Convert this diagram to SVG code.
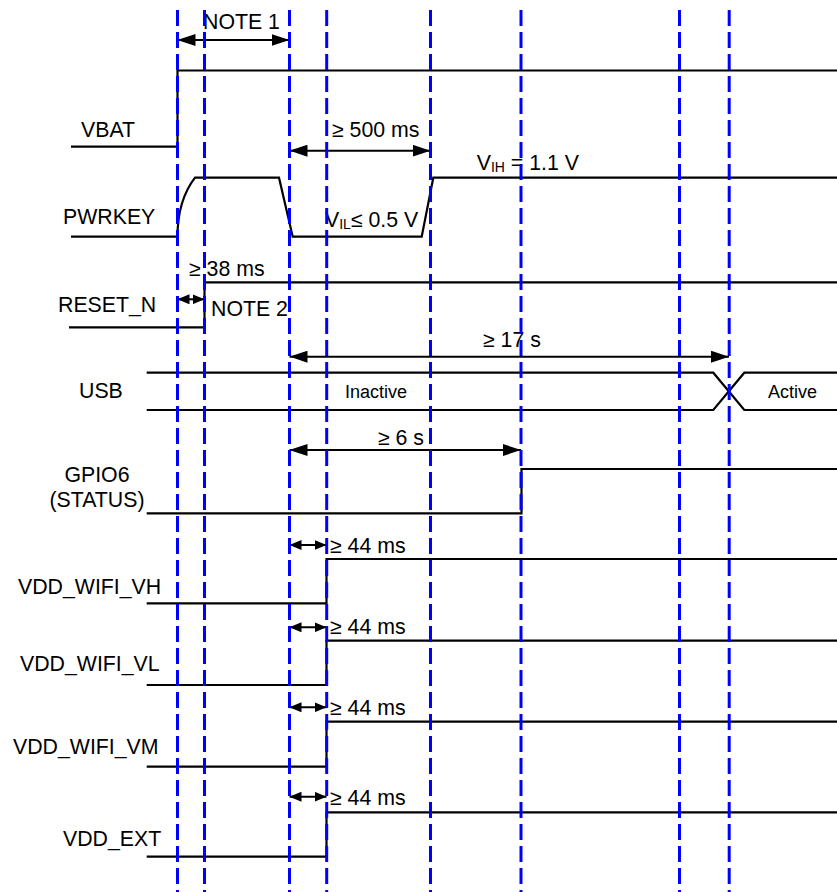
<svg xmlns="http://www.w3.org/2000/svg" width="837" height="892" viewBox="0 0 837 892">
<style>
text{font-family:"Liberation Sans",Arial,sans-serif;font-size:21.3px;fill:#000}
.sig{fill:none;stroke:#000;stroke-width:2.2}
.small{font-size:18px}
.dim{stroke:#000;stroke-width:2;fill:none}
.big{marker-start:url(#ab);marker-end:url(#ab)}
.sm{marker-start:url(#as);marker-end:url(#as)}
.grid{stroke:#0000ff;stroke-width:3;stroke-dasharray:16 6;fill:none}
</style>
<defs>
<marker id="ab" markerUnits="userSpaceOnUse" markerWidth="18" markerHeight="12" refX="18" refY="6" orient="auto-start-reverse"><path d="M0,0 L18,6 L0,12 z" fill="#000"/></marker>
<marker id="as" markerUnits="userSpaceOnUse" markerWidth="12" markerHeight="10" refX="12" refY="5" orient="auto-start-reverse"><path d="M0,0 L12,5 L0,10 z" fill="#000"/></marker>
</defs>
<rect width="837" height="892" fill="#fff"/>

<g id="vbat">
<text x="81" y="136.7">VBAT</text>
<path class="sig" d="M71,146.7 H177.5 V70.5 H837"/>
</g>

<g id="pwrkey">
<text x="63" y="224.3">PWRKEY</text>
<path class="sig" d="M71,236.7 H177.5 C177.5,212 184,192 195,177.7 H279 L292.7,236.7 H421.7 L433.3,177.7 H837"/>
<text x="325" y="227.3">V<tspan font-size="14" dy="2">IL</tspan><tspan dy="-2">≤ 0.5 V</tspan></text>
<text x="476.7" y="170">V<tspan font-size="14" dy="2">IH</tspan><tspan dy="-2"> = 1.1 V</tspan></text>
</g>

<g id="reset_n">
<text x="58" y="311.7">RESET_N</text>
<path class="sig" d="M69,327.3 H204.5 V282.3 H837"/>
<text x="211" y="315.7">NOTE 2</text>
</g>

<g id="usb">
<text x="79" y="398">USB</text>
<path class="sig" d="M146.7,372.7 H713.3 L744.3,410 H837"/>
<path class="sig" d="M146.7,410 H713.3 L744.3,372.7 H837"/>
<text class="small" x="345" y="398">Inactive</text>
<text class="small" x="768" y="398">Active</text>
</g>

<g id="gpio6">
<text x="97" y="481.7" text-anchor="middle">GPIO6</text>
<text x="97" y="506.7" text-anchor="middle">(STATUS)</text>
<path class="sig" d="M146.7,513.3 H521.5 V469 H837"/>
</g>

<g id="vdd_wifi_vh">
<text x="18" y="594">VDD_WIFI_VH</text>
<path class="sig" d="M146.7,603.3 H326.5 V559 H837"/>
</g>

<g id="vdd_wifi_vl">
<text x="20" y="671">VDD_WIFI_VL</text>
<path class="sig" d="M146.7,685 H326.5 V640.7 H837"/>
</g>

<g id="vdd_wifi_vm">
<text x="13" y="754.3">VDD_WIFI_VM</text>
<path class="sig" d="M146.7,766.7 H326.5 V721.7 H837"/>
</g>

<g id="vdd_ext">
<text x="63" y="845.7">VDD_EXT</text>
<path class="sig" d="M146.7,856.7 H326.5 V812.3 H837"/>
</g>

<g id="connectors">
<line class="dim big" x1="177.5" y1="40" x2="289.5" y2="40"/>
<text x="203" y="29">NOTE 1</text>
<line class="dim big" x1="289.5" y1="150.7" x2="430.5" y2="150.7"/>
<text x="332" y="136.7">≥ 500 ms</text>
<line class="dim sm" x1="177.5" y1="299.3" x2="204.5" y2="299.3"/>
<text x="189" y="276">≥ 38 ms</text>
<line class="dim big" x1="289.5" y1="356.7" x2="729" y2="356.7"/>
<text x="483" y="346.7">≥ 17 s</text>
<line class="dim big" x1="289.5" y1="450" x2="521" y2="450"/>
<text x="378" y="445">≥ 6 s</text>
<line class="dim sm" x1="289.5" y1="545" x2="326.5" y2="545"/>
<text x="330" y="552.7">≥ 44 ms</text>
<line class="dim sm" x1="289.5" y1="627.3" x2="326.5" y2="627.3"/>
<text x="330" y="634">≥ 44 ms</text>
<line class="dim sm" x1="289.5" y1="707.3" x2="326.5" y2="707.3"/>
<text x="330" y="715">≥ 44 ms</text>
<line class="dim sm" x1="289.5" y1="796.7" x2="326.5" y2="796.7"/>
<text x="330" y="805">≥ 44 ms</text>
</g>

<g id="grid">
<line class="grid" x1="177.5" y1="10" x2="177.5" y2="892"/>
<line class="grid" x1="204.5" y1="10" x2="204.5" y2="892"/>
<line class="grid" x1="289.5" y1="10" x2="289.5" y2="892"/>
<line class="grid" x1="326.7" y1="10" x2="326.7" y2="892"/>
<line class="grid" x1="430.5" y1="10" x2="430.5" y2="892"/>
<line class="grid" x1="521" y1="10" x2="521" y2="892"/>
<line class="grid" x1="679.5" y1="10" x2="679.5" y2="892"/>
<line class="grid" x1="729.2" y1="10" x2="729.2" y2="892"/>
</g>
</svg>
